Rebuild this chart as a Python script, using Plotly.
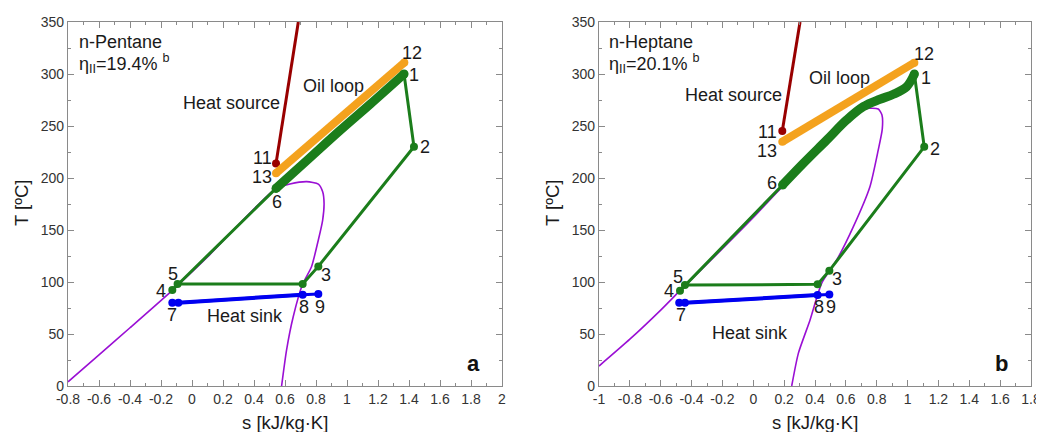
import plotly.graph_objects as go

# ---------------- Panel a : n-Pentane ----------------
pen_dome_s = [-0.8, -0.6, -0.4, -0.127, 0.1, 0.3, 0.542, 0.632, 0.74, 0.815, 0.843, 0.852,
              0.843, 0.815, 0.771, 0.714, 0.653, 0.61, 0.578]
pen_dome_T = [4, 30, 56, 92, 124, 155, 190, 194.2, 196.5, 194.2, 186.8, 175.7,
              159.6, 140.4, 114.7, 98, 66.6, 34.6, 0]
# cycle: 1, 2, 3, A (sat. vapour), 5, 4, 6
pen_cycle_s = [1.368, 1.432, 0.815, 0.714, -0.093, -0.127, 0.542]
pen_cycle_T = [300, 230, 115, 98, 98, 92.3, 190]
# heating 6 -> 1 (thick)
pen_heat_s = [0.542, 0.75, 0.95, 1.15, 1.368]
pen_heat_T = [190, 218, 245, 271, 300]
# oil loop 13 -> 12
pen_oil_s = [0.542, 1.37]
pen_oil_T = [204.5, 311]
# heat source from 11
pen_src_s = [0.542, 0.686]
pen_src_T = [214, 350]
# heat sink 7, 7', 8, 9
pen_sink_s = [-0.127, -0.088, 0.714, 0.815]
pen_sink_T = [80, 80, 87.8, 88.5]

# ---------------- Panel b : n-Heptane ----------------
hep_dome_s = [-1.0, -0.8, -0.6, -0.475, -0.2, 0.0, 0.19, 0.35, 0.5, 0.6, 0.692, 0.756, 0.81,
              0.834, 0.836, 0.81, 0.756, 0.648, 0.54, 0.443, 0.368, 0.292, 0.249]
hep_dome_T = [19.2, 45, 73, 91.7, 132, 162, 192, 214, 236, 253, 265.4, 267, 266.3,
              260.6, 247, 227, 191.6, 153, 121, 98.7, 63.5, 31.4, 0]
hep_cycle_s = [1.044, 1.108, 0.493, 0.417, -0.443, -0.475, 0.19]
hep_cycle_T = [300, 230, 110.9, 97.8, 97, 91.7, 193.3]
hep_heat_s = [0.19, 0.324, 0.476, 0.605, 0.713, 0.821, 0.908, 0.994, 1.044]
hep_heat_T = [193.3, 214, 236.5, 255.8, 268.6, 275.7, 280.5, 287.8, 300]
hep_oil_s = [0.188, 1.044]
hep_oil_T = [234.9, 310.9]
hep_src_s = [0.188, 0.303]
hep_src_T = [245.2, 350]
hep_sink_s = [-0.48, -0.443, 0.417, 0.493]
hep_sink_T = [80.1, 80, 87.5, 88]

# tick labels
pen_xticks = [-0.8, -0.6, -0.4, -0.2, 0, 0.2, 0.4, 0.6, 0.8, 1, 1.2, 1.4, 1.6, 1.8, 2]
pen_xlabels = ["-0.8", "-0.6", "-0.4", "-0.2", "0", "0.2", "0.4", "0.6", "0.8", "1",
               "1.2", "1.4", "1.6", "1.8", "2"]
hep_xticks = [-1, -0.8, -0.6, -0.4, -0.2, 0, 0.2, 0.4, 0.6, 0.8, 1, 1.2, 1.4, 1.6, 1.8]
hep_xlabels = ["-1", "-0.8", "-0.6", "-0.4", "-0.2", "0", "0.2", "0.4", "0.6", "0.8", "1",
               "1.2", "1.4", "1.6", "1.8"]
yticks = [0, 50, 100, 150, 200, 250, 300, 350]

# ---------------- styling / label placement ----------------
FONT = "Arial, Liberation Sans, sans-serif"
GREEN = "#1b7d1b"
ORANGE = "#f4a21e"
DARKRED = "#990000"
BLUE = "#0000f0"
PURPLE = "#9a0fd4"
AXC = "#8a8a8a"

# figure size (page body adds an 8 px offset)
W, H = 1036, 424

pen_labels = [("12", 1.42, 320), ("1", 1.43, 299), ("2", 1.50, 230), ("11", 0.458, 219),
              ("13", 0.452, 201), ("6", 0.548, 177), ("5", -0.123, 108), ("4", -0.20, 91.3),
              ("3", 0.865, 106.7), ("7", -0.129, 68.3), ("8", 0.723, 76), ("9", 0.826, 76)]
hep_labels = [("12", 1.107, 319), ("1", 1.12, 296), ("2", 1.178, 228), ("11", 0.089, 244),
              ("13", 0.089, 226), ("6", 0.121, 195), ("5", -0.488, 105), ("4", -0.546, 91.3),
              ("3", 0.543, 103), ("7", -0.469, 68.3), ("8", 0.426, 76), ("9", 0.504, 76)]

fig = go.Figure()


def add_panel(xa, ya, dome, cycle, heat, oil, src, sink):
    fig.add_trace(go.Scatter(x=dome[0], y=dome[1], mode="lines", xaxis=xa, yaxis=ya,
                             line=dict(color=PURPLE, width=1.6, shape="spline", smoothing=0.6)))
    fig.add_trace(go.Scatter(x=src[0], y=src[1], mode="lines", xaxis=xa, yaxis=ya,
                             line=dict(color=DARKRED, width=3)))
    fig.add_trace(go.Scatter(x=src[0][:1], y=src[1][:1], mode="markers", xaxis=xa, yaxis=ya,
                             marker=dict(color=DARKRED, size=8)))
    fig.add_trace(go.Scatter(x=cycle[0], y=cycle[1], mode="lines+markers", xaxis=xa, yaxis=ya,
                             line=dict(color=GREEN, width=3), marker=dict(color=GREEN, size=8)))
    fig.add_trace(go.Scatter(x=oil[0], y=oil[1], mode="lines+markers", xaxis=xa, yaxis=ya,
                             line=dict(color=ORANGE, width=8),
                             marker=dict(color=ORANGE, size=8)))
    fig.add_trace(go.Scatter(x=heat[0], y=heat[1], mode="lines", xaxis=xa, yaxis=ya,
                             line=dict(color=GREEN, width=9, shape="spline")))
    fig.add_trace(go.Scatter(x=[heat[0][0], heat[0][-1]], y=[heat[1][0], heat[1][-1]],
                             mode="markers", xaxis=xa, yaxis=ya,
                             marker=dict(color=GREEN, size=9)))
    fig.add_trace(go.Scatter(x=sink[0][1:3], y=sink[1][1:3], mode="lines", xaxis=xa, yaxis=ya,
                             line=dict(color=BLUE, width=4)))
    fig.add_trace(go.Scatter(x=sink[0], y=sink[1], mode="lines+markers", xaxis=xa, yaxis=ya,
                             line=dict(color=BLUE, width=3), marker=dict(color=BLUE, size=8)))


add_panel("x", "y", (pen_dome_s, pen_dome_T), (pen_cycle_s, pen_cycle_T),
          (pen_heat_s, pen_heat_T), (pen_oil_s, pen_oil_T), (pen_src_s, pen_src_T),
          (pen_sink_s, pen_sink_T))
add_panel("x2", "y2", (hep_dome_s, hep_dome_T), (hep_cycle_s, hep_cycle_T),
          (hep_heat_s, hep_heat_T), (hep_oil_s, hep_oil_T), (hep_src_s, hep_src_T),
          (hep_sink_s, hep_sink_T))

ann = []
TXT = dict(family=FONT, size=18, color="#1a1a1a")
for xr, yr, labels in (("x", "y", pen_labels), ("x2", "y2", hep_labels)):
    for t, sx, ty in labels:
        ann.append(dict(text=t, x=sx, y=ty, xref=xr, yref=yr, showarrow=False, font=TXT))

texts = [
    ("x", "y", "n-Pentane", -0.735, 331, "left"),
    ("x", "y", "η<sub>II</sub>=19.4% <sup>b</sup>", -0.735, 310.5, "left"),
    ("x", "y", "Heat source", 0.255, 272, "center"),
    ("x", "y", "Oil loop", 0.913, 288.5, "center"),
    ("x", "y", "Heat sink", 0.342, 67.3, "center"),
    ("x2", "y2", "n-Heptane", -0.942, 331, "left"),
    ("x2", "y2", "η<sub>II</sub>=20.1% <sup>b</sup>", -0.942, 310.5, "left"),
    ("x2", "y2", "Heat source", -0.131, 279.8, "center"),
    ("x2", "y2", "Oil loop", 0.556, 296.2, "center"),
    ("x2", "y2", "Heat sink", -0.021, 51, "center"),
]
for xr, yr, t, sx, ty, anc in texts:
    ann.append(dict(text=t, x=sx, y=ty, xref=xr, yref=yr, xanchor=anc, showarrow=False,
                    font=TXT, borderpad=0))

ann.append(dict(text="<b>a</b>", x=1.813, y=22, xref="x", yref="y", showarrow=False,
                font=dict(family=FONT, size=22, color="#111")))
ann.append(dict(text="<b>b</b>", x=1.612, y=22, xref="x2", yref="y2", showarrow=False,
                font=dict(family=FONT, size=22, color="#111")))

# axis titles
TITLE = dict(family=FONT, size=18.5, color="#1a1a1a")
for tx, ty, t, ang in ((13, 195, "T [ºC]", -90), (544, 195, "T [ºC]", -90),
                       (277, 414, "s [kJ/kg·K]", 0), (807, 414, "s [kJ/kg·K]", 0)):
    ann.append(dict(text=t, x=tx / W, y=1 - ty / H, xref="paper", yref="paper",
                    xanchor="center", yanchor="middle", textangle=ang,
                    showarrow=False, font=TITLE, borderpad=0))

TICKF = dict(family=FONT, size=14, color="#333333")
common_x = dict(showgrid=False, zeroline=False, showline=True, linecolor=AXC, linewidth=1.2,
                ticks="inside", ticklen=6, tickcolor=AXC, mirror="ticks", tickfont=TICKF,
                tickmode="array", automargin=False,
                minor=dict(ticks="inside", ticklen=3, dtick=0.1, tickcolor=AXC))
common_y = dict(showgrid=False, zeroline=False, showline=True, linecolor=AXC, linewidth=1.2,
                ticks="inside", ticklen=6, tickcolor=AXC, mirror="ticks", tickfont=TICKF,
                range=[0, 350], tickvals=yticks, ticktext=[str(v) for v in yticks],
                automargin=False,
                minor=dict(ticks="inside", ticklen=3, dtick=25, tickcolor=AXC))

ydom = [46 / H, 410 / H]
fig.update_layout(
    width=W, height=H, margin=dict(l=0, r=0, t=0, b=0, pad=0, autoexpand=False),
    paper_bgcolor="white", plot_bgcolor="white", showlegend=False,
    xaxis=dict(common_x, domain=[60 / W, 494 / W], range=[-0.8, 2],
               tickvals=pen_xticks, ticktext=pen_xlabels, anchor="y"),
    yaxis=dict(common_y, domain=ydom, anchor="x"),
    xaxis2=dict(common_x, domain=[591 / W, 1023 / W], range=[-1, 1.8],
                tickvals=hep_xticks, ticktext=hep_xlabels, anchor="y2"),
    yaxis2=dict(common_y, domain=ydom, anchor="x2"),
    annotations=ann,
)

fig.write_html("out.html")
